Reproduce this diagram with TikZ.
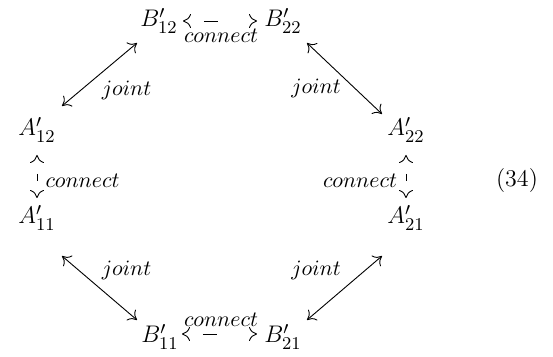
\documentclass[tikz,border=0pt]{standalone}
\usetikzlibrary{arrows.meta}
\begin{document}
\begin{tikzpicture}[x=0.5pt,y=-0.5pt,
  obj/.style={font=\fontsize{12.8}{15}\selectfont, inner sep=0pt, anchor=base},
  lab/.style={font=\fontsize{10.5}{13}\selectfont, inner sep=0pt, anchor=base},
  tip/.tip={Computer Modern Rightarrow[length=4pt,width=7pt]},
  arr/.style={line width=0.45pt, tip-tip},
  hdash/.style={arr, dash pattern=on 7pt off 30pt, dash phase=27pt},
  vdash/.style={arr, dash pattern=on 3.5pt off 30pt, dash phase=24.5pt}]
\useasboundingbox (0,0) rectangle (553,357);
% objects
\node[obj] (B12) at (159,27) {$B'_{12}$};
\node[obj] (B22) at (283,27) {$B'_{22}$};
\node[obj] (A12) at (37,136) {$A'_{12}$};
\node[obj] (A22) at (406,136) {$A'_{22}$};
\node[obj] (A11) at (37,224) {$A'_{11}$};
\node[obj] (A21) at (406,224) {$A'_{21}$};
\node[obj] (B11) at (160,343) {$B'_{11}$};
\node[obj] (B21) at (283,343) {$B'_{21}$};
\node[font=\large, inner sep=0pt, anchor=base] (eq) at (517,187) {(34)};
% labels
\node[lab] (c1) at (221,43) {$connect$};
\node[lab] (c2) at (221,327) {$connect$};
\node[lab] (c3) at (82.5,188) {$connect$};
\node[lab] (c4) at (360,188) {$connect$};
\node[lab] (j1) at (126.5,96) {$joint$};
\node[lab] (j2) at (316,94) {$joint$};
\node[lab] (j3) at (126.5,276) {$joint$};
\node[lab] (j4) at (316,276) {$joint$};
% connectors
\draw[hdash] ([shift={(24,-6)}]B12.base) -- ([shift={(-26,-6)}]B22.base);
\draw[hdash] ([shift={(22,-9)}]B11.base) -- ([shift={(-26,-9)}]B21.base);
\draw[vdash] ([shift={(0,19)}]A12.base) -- ([shift={(0,-26)}]A11.base);
\draw[vdash] ([shift={(0,19)}]A22.base) -- ([shift={(0,-26)}]A21.base);
\draw[arr] ([shift={(-22,16)}]B12.base) -- ([shift={(25,-30)}]A12.base);
\draw[arr] ([shift={(24,16)}]B22.base) -- ([shift={(-24,-22)}]A22.base);
\draw[arr] ([shift={(25,32)}]A11.base) -- ([shift={(-23,-23)}]B11.base);
\draw[arr] ([shift={(-24,32)}]A21.base) -- ([shift={(24,-23)}]B21.base);
\end{tikzpicture}
\end{document}
